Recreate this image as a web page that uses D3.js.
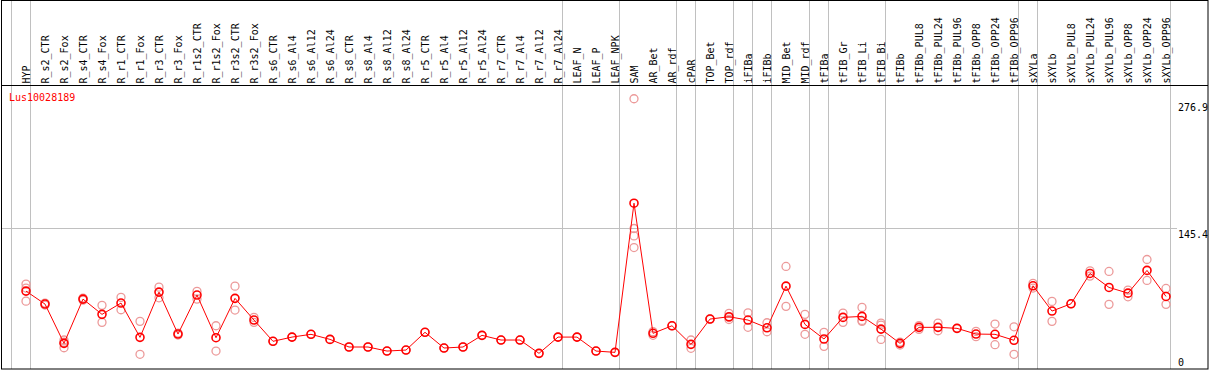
<!DOCTYPE html>
<html>
<head>
<meta charset="utf-8">
<script src="https://cdn.jsdelivr.net/npm/d3@7"></script>
<style>
  body { margin: 0; background: #fff; }
  text { font-family: "DejaVu Sans Mono", monospace; font-size: 10px; }
</style>
</head>
<body>
<div id="chart"></div>
<script>
// sample names, one column each
const samples = ["HYP","R_s2_CTR","R_s2_Fox","R_s4_CTR","R_s4_Fox","R_r1_CTR","R_r1_Fox","R_r3_CTR","R_r3_Fox",
  "R_r1s2_CTR","R_r1s2_Fox","R_r3s2_CTR","R_r3s2_Fox","R_s6_CTR","R_s6_Al4","R_s6_Al12","R_s6_Al24",
  "R_s8_CTR","R_s8_Al4","R_s8_Al12","R_s8_Al24","R_r5_CTR","R_r5_Al4","R_r5_Al12","R_r5_Al24",
  "R_r7_CTR","R_r7_Al4","R_r7_Al12","R_r7_Al24","LEAF_N","LEAF_P","LEAF_NPK","SAM","AR_Bet","AR_rdf",
  "cPAR","TOP_Bet","TOP_rdf","iFIBa","iFIBb","MID_Bet","MID_rdf","tFIBa","tFIB_Gr","tFIB_Li","tFIB_Bi",
  "tFIBb","tFIBb_PUL8","tFIBb_PUL24","tFIBb_PUL96","tFIBb_OPP8","tFIBb_OPP24","tFIBb_OPP96",
  "sXYLa","sXYLb","sXYLb_PUL8","sXYLb_PUL24","sXYLb_PUL96","sXYLb_OPP8","sXYLb_OPP24","sXYLb_OPP96"];

// mean expression per sample
const means = [77.1,63.0,20.3,68.4,51.8,64.1,26.8,76.0,30.4,72.8,26.4,69.2,45.6,22.5,27.1,30.1,24.6,
  16.3,16.3,11.9,13.0,32.3,15.2,16.3,29.0,23.9,23.9,9.4,27.1,27.1,11.9,10.5,172.7,31.2,39.4,
  19.2,46.7,49.2,45.6,37.2,82.5,40.9,25.0,48.5,49.6,35.8,20.3,37.7,37.7,36.6,30.4,30.1,23.6,
  82.9,55.4,63.3,96.3,81.1,74.9,99.6,71.3];

// replicate values per sample
const reps = [[84.7,80.4,66.2],[64.1,61.9],[23.9,21.5,15.5],[69.5,67.3],[61.6,43.1],[70.3,56.8],[44.2,8.4],
  [81.4,69.8],[31.5,29.3],[76.8,68.4],[39.4,11.9],[82.5,56.5],[48.5,43.1],[22.5],[27.1],[30.1],[24.6],
  [16.3],[16.3],[11.9],[13.0],[32.3],[15.2],[16.3],[29.0],[23.9],[23.9],[9.4],[27.1],[27.1],[11.9],[10.5],
  [286.3,145.2,137.1,124.5],[29.0,33.0],[39.4],[23.9,14.9],[47.0,46.4],[52.9,48.5,46.2],[53.5,37.7],
  [42.7,32.9],[103.9,60.5],[51.8,30.1],[32.3,17.0],[53.2,43.1],[59.4,44.2,45.2],[42.3,24.6,40.2],
  [21.7,18.5],[35.5,39.6],[42.3,34.0],[36.6],[27.5,33.3],[41.3,18.8],[38.3,8.4],[85.5,80.4],[65.9,44.2],
  [63.3],[99.1,93.4],[98.5,62.7],[78.2,70.9],[111.5,88.7],[80.0,62.7]];

// first column of each group (gray separators), plus the end
const groupStarts = [0,1,29,32,35,36,38,39,40,42,43,46,53,54,61];

const yTicks = [0, 145.4, 276.9];
const geneName = "Lus10028189";

const w = 1209, h = 370;
const headerY = 85, bottomY = 369;

const svg = d3.select("#chart").append("svg")
  .attr("width", w).attr("height", h);

const x = d3.scaleBand().domain(d3.range(samples.length + 1)).range([11.5, 11.5 + 19 * (samples.length + 1)]);
const cx = i => x(i) + 14.5;
const y = d3.scaleLinear().domain([0, 276.9]).range([362, 107.4]);

// gray separators
svg.selectAll(".sep").data(groupStarts).enter().append("line")
  .attr("x1", d => x(d)).attr("x2", d => x(d))
  .attr("y1", 0).attr("y2", bottomY)
  .attr("stroke", "#c0c0c0");

// gridline at middle tick
svg.append("line")
  .attr("x1", 1).attr("x2", 1177)
  .attr("y1", Math.round(y(145.4)) + 0.5).attr("y2", Math.round(y(145.4)) + 0.5)
  .attr("stroke", "#c0c0c0");

// frame
svg.append("rect").attr("x", 1.5).attr("y", 0.5).attr("width", 1206.5).attr("height", bottomY - 0.5)
  .attr("fill", "none").attr("stroke", "#000");
svg.append("line").attr("x1", 1).attr("x2", 1208).attr("y1", headerY + 0.5).attr("y2", headerY + 0.5).attr("stroke", "#000");

// column labels
svg.selectAll(".lab").data(samples).enter().append("text")
  .attr("transform", (d, i) => `translate(${cx(i) + 0.5},83.5) rotate(-90)`)
  .attr("text-anchor", "start")
  .attr("dy", "0.35em")
  .text(d => d);

// y labels
svg.selectAll(".yl").data(yTicks).enter().append("text")
  .attr("x", 1178)
  .attr("y", d => y(d))
  .attr("dy", d => d === 145.4 ? "0.95em" : "0.35em")
  .text(d => d);

svg.append("text").attr("x", 9).attr("y", 97).attr("dy", "0.35em")
  .attr("fill", "#f00").text(geneName);

// replicate circles
const repPts = [];
reps.forEach((r, i) => r.forEach(v => repPts.push([i, v])));
svg.selectAll(".rep").data(repPts).enter().append("circle")
  .attr("cx", d => cx(d[0])).attr("cy", d => y(d[1])).attr("r", 4)
  .attr("fill", "none").attr("stroke", "#ec9a9a").attr("stroke-width", 1.3);

// mean line
const line = d3.line().x((d, i) => cx(i)).y(d => y(d));
svg.append("path").datum(means).attr("d", line)
  .attr("fill", "none").attr("stroke", "#f00").attr("stroke-width", 1);

svg.selectAll(".mean").data(means).enter().append("circle")
  .attr("cx", (d, i) => cx(i)).attr("cy", d => y(d)).attr("r", 4)
  .attr("fill", "none").attr("stroke", "#f00").attr("stroke-width", 1.6);
</script>
</body>
</html>
